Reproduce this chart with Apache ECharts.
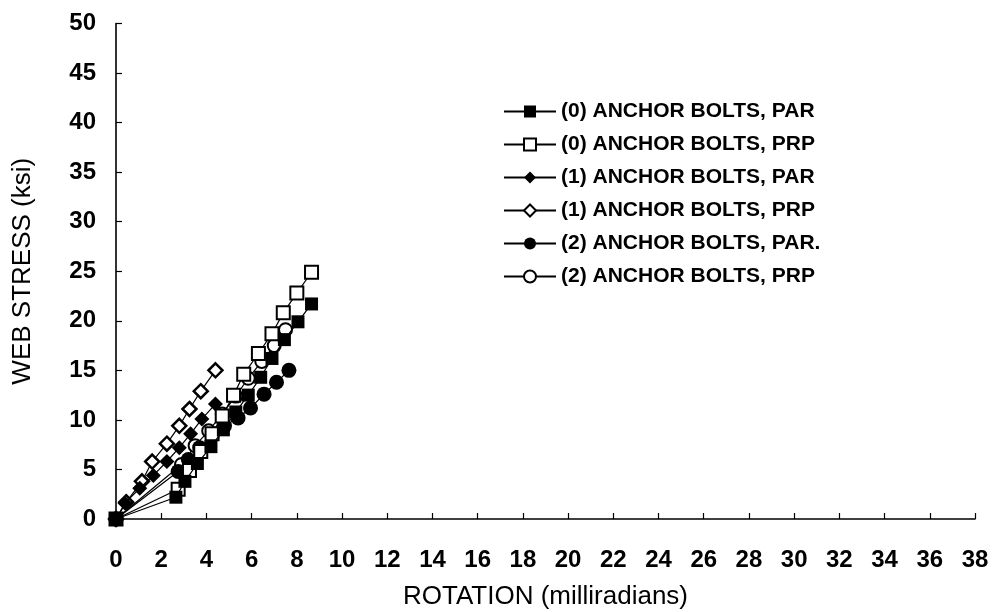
<!DOCTYPE html>
<html><head><meta charset="utf-8">
<script src="https://cdn.jsdelivr.net/npm/echarts@6/dist/echarts.min.js"></script>
<style>html,body{margin:0;padding:0;background:#fff}#c{width:995px;height:612px}</style>
</head><body><div id="c"></div>
<script>
const seriesNames = ['(0) ANCHOR BOLTS, PAR','(0) ANCHOR BOLTS, PRP','(1) ANCHOR BOLTS, PAR','(1) ANCHOR BOLTS, PRP','(2) ANCHOR BOLTS, PAR.','(2) ANCHOR BOLTS, PRP'];
const s0PAR_x = [0, 2.65, 3.05, 3.6, 4.2, 4.75, 5.3, 5.85, 6.4, 6.9, 7.45, 8.05, 8.65];
const s0PAR_y = [0, 2.2, 3.8, 5.6, 7.3, 9.0, 10.8, 12.5, 14.3, 16.2, 18.1, 19.9, 21.7];
const s0PRP_x = [0, 2.75, 3.25, 3.75, 4.25, 4.7, 5.2, 5.65, 6.3, 6.9, 7.4, 8.0, 8.65];
const s0PRP_y = [0, 3.0, 4.9, 6.8, 8.6, 10.4, 12.5, 14.6, 16.7, 18.7, 20.8, 22.8, 24.9];
const s1PAR_x = [0, 0.4, 1.05, 1.65, 2.25, 2.8, 3.3, 3.8, 4.4];
const s1PAR_y = [0, 1.6, 3.1, 4.4, 5.8, 7.2, 8.6, 10.1, 11.6];
const s1PRP_x = [0, 0.45, 1.15, 1.6, 2.25, 2.8, 3.25, 3.75, 4.4];
const s1PRP_y = [0, 1.7, 3.8, 5.8, 7.6, 9.4, 11.1, 12.9, 15.0];
const s2PAR_x = [0, 2.75, 3.2, 3.7, 4.25, 4.8, 5.4, 5.95, 6.55, 7.1, 7.65];
const s2PAR_y = [0, 4.8, 6.0, 7.2, 8.4, 9.4, 10.2, 11.2, 12.6, 13.8, 15.0];
const s2PRP_x = [0, 2.9, 3.5, 4.1, 4.7, 5.3, 5.85, 6.45, 7.0, 7.5];
const s2PRP_y = [0, 5.5, 7.4, 8.9, 10.6, 12.4, 14.2, 15.9, 17.5, 19.1];
const xTicks = {min: 0, max: 38, interval: 2};
const yTicks = {min: 0, max: 50, interval: 5};

const FONT = "'Liberation Sans', Arial, sans-serif";
function pairs(xs, ys){ return xs.map((x,i)=>[x, ys[i]]); }
const styles = [
  {symbol:'rect', size:13, fill:'#000', bw:0},
  {symbol:'rect', size:13, fill:'#fff', bw:2},
  {symbol:'diamond', size:15, fill:'#000', bw:0},
  {symbol:'diamond', size:14, fill:'#fff', bw:2.5},
  {symbol:'circle', size:15, fill:'#000', bw:0},
  {symbol:'circle', size:13, fill:'#fff', bw:2}
];
const data = [pairs(s0PAR_x,s0PAR_y), pairs(s0PRP_x,s0PRP_y), pairs(s1PAR_x,s1PAR_y), pairs(s1PRP_x,s1PRP_y), pairs(s2PAR_x,s2PAR_y), pairs(s2PRP_x,s2PRP_y)];
const series = seriesNames.map((n,i)=>({
  name:n, type:'line', data:data[i], symbol:styles[i].symbol, symbolSize:styles[i].size, showAllSymbol:true,
  lineStyle:{color:'#000', width:1.2},
  itemStyle:{color:styles[i].fill, borderColor:'#000', borderWidth:styles[i].bw},
  z: 10 - i
}));
const chart = echarts.init(document.getElementById('c'), null, {renderer:'canvas'});
chart.setOption({
  animation:false,
  backgroundColor:'#fff',
  textStyle:{fontFamily:FONT, color:'#000'},
  grid:{left:116, right:20, top:23.5, bottom:93, containLabel:false, outerBoundsMode:'none'},
  legend:{
    orient:'vertical', left:503, top:101, padding:0, itemWidth:52, itemHeight:15, itemGap:12,
    textStyle:{fontFamily:FONT, fontSize:21, fontWeight:'bold', color:'#000', lineHeight:20},
    data: seriesNames
  },
  xAxis:{
    type:'value', min:xTicks.min, max:xTicks.max, interval:xTicks.interval,
    name:'ROTATION (milliradians)', nameLocation:'middle', nameGap:65, nameMoveOverlap:false,
    nameTextStyle:{fontFamily:FONT, fontSize:26, color:'#000'},
    axisLine:{show:true, onZero:false, lineStyle:{color:'#000', width:1.6}},
    axisTick:{show:true, inside:true, length:6, lineStyle:{color:'#000', width:1.2}},
    axisLabel:{fontFamily:FONT, fontSize:24, fontWeight:'bold', color:'#000', margin:29},
    splitLine:{show:false}
  },
  yAxis:{
    type:'value', min:yTicks.min, max:yTicks.max, interval:yTicks.interval,
    name:'WEB STRESS (ksi)', nameLocation:'middle', nameGap:80, nameMoveOverlap:false,
    nameTextStyle:{fontFamily:FONT, fontSize:26, color:'#000'},
    axisLine:{show:true, onZero:false, lineStyle:{color:'#000', width:1.6}},
    axisTick:{show:true, inside:true, length:6, lineStyle:{color:'#000', width:1.2}},
    axisLabel:{fontFamily:FONT, fontSize:24, fontWeight:'bold', color:'#000', margin:20},
    splitLine:{show:false}
  },
  series: series
});
</script>
</body></html>
